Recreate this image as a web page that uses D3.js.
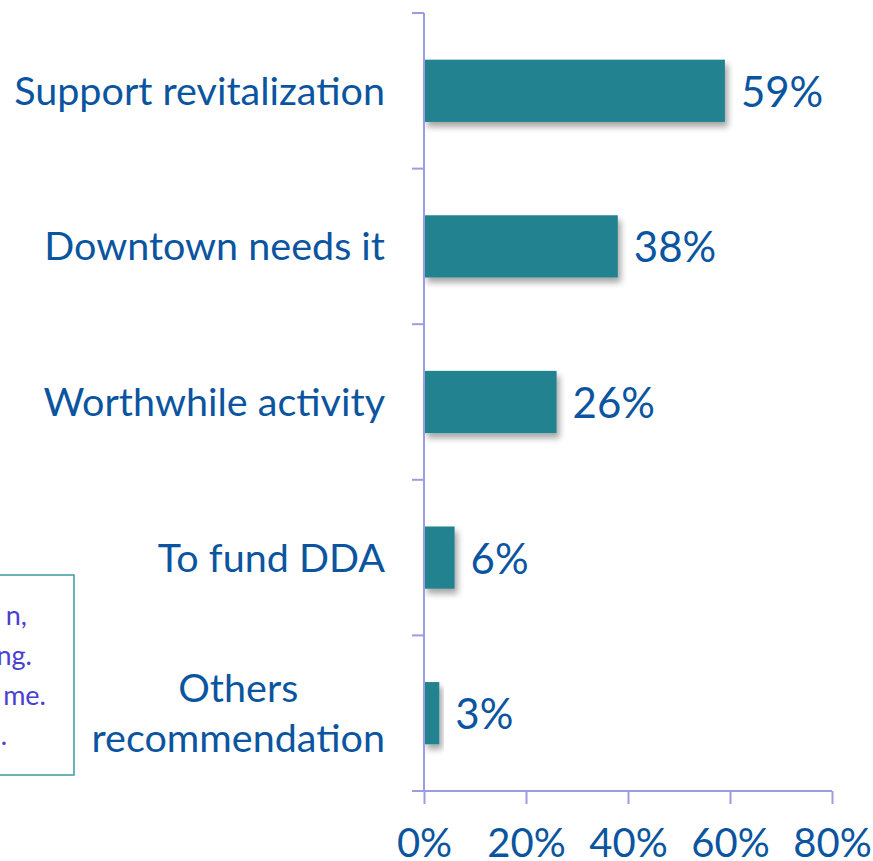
<!DOCTYPE html>
<html>
<head>
<meta charset="utf-8">
<script src="https://cdn.jsdelivr.net/npm/d3@7"></script>
<style>
  body { margin: 0; background: #fff; }
  svg { display: block; font-family: Lato, "Open Sans", sans-serif; }
</style>
</head>
<body>
<svg id="chart" width="873" height="861"></svg>
<script>
const categories = ["Support revitalization", "Downtown needs it", "Worthwhile activity", "To fund DDA", "Others\nrecommendation"];
const values = [0.59, 0.38, 0.26, 0.06, 0.03];
const xTicks = [0, 0.2, 0.4, 0.6, 0.8];
// visible tail of a note box cut off at the left edge
const noteLines = ["n,", "ng.", "me.", "."];

const svg = d3.select("#chart");
const axisColor = "#9c9ce0";
const textColor = "#0b55a0";
const barColor = "#20828f";

const xScale = d3.scaleLinear().domain([0, 0.8]).range([424, 832]);
const yScale = d3.scaleBand().domain(categories).range([13, 791])
  .paddingInner(0.6).paddingOuter(0.3);
const step = yScale.step();

// drop shadow for bars
const defs = svg.append("defs");
const filter = defs.append("filter").attr("id", "shadow")
  .attr("x", "-20%").attr("y", "-20%").attr("width", "150%").attr("height", "150%");
filter.append("feDropShadow")
  .attr("dx", 3).attr("dy", 5).attr("stdDeviation", 3)
  .attr("flood-color", "#000").attr("flood-opacity", 0.35);

// note box
const note = svg.append("g");
note.append("rect")
  .attr("x", -200).attr("y", 575).attr("width", 274).attr("height", 200)
  .attr("fill", "#fff").attr("stroke", "#3a9aa0").attr("stroke-width", 1.5);
const noteEnds = [27, 32, 46, 7];
note.selectAll("text").data(noteLines).enter().append("text")
  .attr("x", function(d, i) { return noteEnds[i]; })
  .attr("y", function(d, i) { return 625 + i * 40; })
  .attr("text-anchor", "end")
  .attr("font-size", 27)
  .attr("fill", "#4a3fd0")
  .text(function(d) { return d; });

// bars
svg.append("g")
  .selectAll("rect")
  .data(values)
  .enter()
  .append("rect")
  .attr("x", xScale(0))
  .attr("y", function(d, i) { return yScale(categories[i]); })
  .attr("width", function(d) { return xScale(d) - xScale(0); })
  .attr("height", yScale.bandwidth())
  .attr("fill", barColor)
  .attr("filter", "url(#shadow)");

// value labels
svg.append("g")
  .selectAll("text")
  .data(values)
  .enter()
  .append("text")
  .attr("x", function(d) { return xScale(d) + 16; })
  .attr("y", function(d, i) { return yScale(categories[i]) + yScale.bandwidth() / 2 + 16; })
  .attr("font-size", 42)
  .attr("fill", textColor)
  .text(function(d) { return Math.round(d * 100) + "%"; });

// y axis line and boundary ticks
const yAxis = svg.append("g").attr("stroke", axisColor).attr("stroke-width", 2);
yAxis.append("line")
  .attr("x1", xScale(0)).attr("x2", xScale(0))
  .attr("y1", yScale.range()[0]).attr("y2", yScale.range()[1]);
yAxis.selectAll(".tick")
  .data(d3.range(categories.length + 1))
  .enter()
  .append("line")
  .attr("x1", xScale(0) - 12).attr("x2", xScale(0))
  .attr("y1", function(i) { return yScale.range()[0] + i * step; })
  .attr("y2", function(i) { return yScale.range()[0] + i * step; });

// category labels
const labelRight = 385;
const catG = svg.append("g").attr("fill", textColor).attr("font-size", 39.5);
categories.forEach(function(c) {
  const lines = c.split("\n");
  const cy = yScale(c) + yScale.bandwidth() / 2;
  const t = catG.append("text").attr("text-anchor", lines.length > 1 ? "middle" : "end");
  lines.forEach(function(l, j) {
    t.append("tspan")
      .attr("x", labelRight)
      .attr("y", cy + 14 + (j - (lines.length - 1) / 2) * 50)
      .text(l);
  });
  if (lines.length > 1) {
    const w = t.node().getBBox().width;
    t.selectAll("tspan").attr("x", labelRight - w / 2);
  }
});

// x axis
const xAxis = svg.append("g")
  .attr("transform", "translate(0," + yScale.range()[1] + ")")
  .call(d3.axisBottom(xScale).tickValues(xTicks).tickFormat(d3.format(".0%")).tickSize(13).tickSizeOuter(0));
xAxis.select(".domain").remove();
xAxis.append("line")
  .attr("x1", xScale(0) - 12).attr("x2", xScale(0.8))
  .attr("stroke", axisColor).attr("stroke-width", 2);
xAxis.selectAll(".tick line").attr("stroke", axisColor).attr("stroke-width", 2);
xAxis.selectAll(".tick text")
  .attr("fill", textColor)
  .attr("font-size", 40)
  .attr("font-family", "Lato, 'Open Sans', sans-serif")
  .attr("y", 66).attr("dy", 0);
</script>
</body>
</html>
